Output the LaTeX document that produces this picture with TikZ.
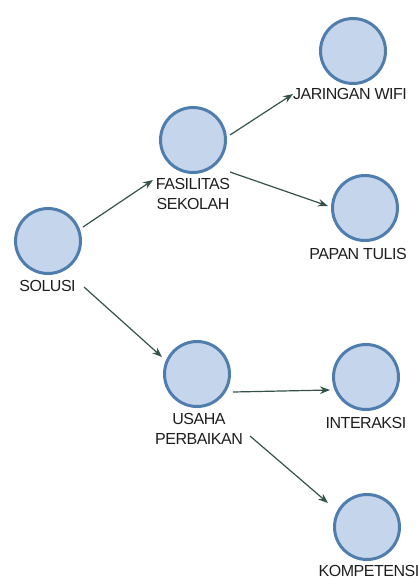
\documentclass[tikz,border=0pt]{standalone}
\usepackage{fontspec}
\setmainfont{Liberation Sans}[LetterSpace=-3]
\usetikzlibrary{arrows.meta,calc}
\definecolor{cfill}{HTML}{C5D5EB}
\definecolor{cdraw}{HTML}{4F7DAE}
\definecolor{carrow}{HTML}{34524A}
\begin{document}
\begin{tikzpicture}[x=1pt,y=-1pt,
  circ/.style={circle,draw=cdraw,fill=cfill,line width=3pt,minimum size=65pt,inner sep=0pt},
  lab/.style={inner sep=0pt,anchor=north,align=center,font=\fontsize{16}{20.5}\selectfont,text=black!88},
  conn/.style={draw=carrow,line width=1.2pt,-{Stealth[length=10pt,width=7.5pt]}}]
\useasboundingbox (0,0) rectangle (418,579);
\node[circ] (c1) at (48,241) {};
\node[circ] (c2) at (193,140) {};
\node[circ] (c3) at (353,51) {};
\node[circ] (c4) at (365,208) {};
\node[circ] (c5) at (197,374) {};
\node[circ] (c6) at (366,377) {};
\node[circ] (c7) at (367,527) {};
\node[lab] (l1) at (47.5,280) {SOLUSI};
\node[lab] (l2) at (193,178) {FASILITAS\\SEKOLAH};
\node[lab] (l3) at (350,88) {JARINGAN WIFI};
\node[lab] (l4) at (358,248) {PAPAN TULIS};
\node[lab] (l5) at (199,413) {USAHA\\PERBAIKAN};
\node[lab] (l6) at (366,417) {INTERAKSI};
\node[lab] (l7) at (369,565) {KOMPETENSI};
\draw[conn] ($(c1)+(35,-14)$) -- ($(c2)+(-40,40)$);
\draw[conn] ($(c2)+(37,-5)$) -- ($(c3)+(-60,43)$);
\draw[conn] ($(c2)+(37,32)$) -- ($(c4)+(-37,-2)$);
\draw[conn] ($(c1)+(36,46)$) -- ($(c5)+(-35,-17)$);
\draw[conn] ($(c5)+(36,18)$) -- ($(c6)+(-36,13)$);
\draw[conn] ($(c5)+(53,62)$) -- ($(c7)+(-39,-24)$);
\end{tikzpicture}
\end{document}
